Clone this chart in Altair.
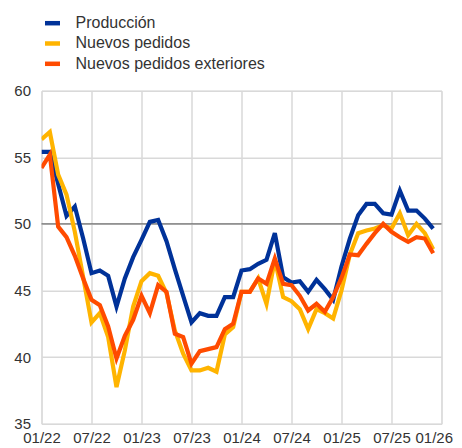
import altair as alt
import pandas as pd

series_names = ["Producción", "Nuevos pedidos", "Nuevos pedidos exteriores"]
series_colors = ["#003299", "#ffb400", "#ff4b00"]

months = list(range(48))  # months since 01/2022

produccion = [55.4, 55.4, 53.0, 50.6, 51.3, 48.9, 46.3, 46.5, 46.1, 43.8, 45.9, 47.5,
              48.8, 50.15, 50.3, 48.7, 46.6, 44.6, 42.6, 43.3, 43.1, 43.1, 44.5, 44.5,
              46.5, 46.6, 47.0, 47.3, 49.3, 46.0, 45.6, 45.7, 44.9, 45.8, 45.1, 44.3,
              46.8, 48.9, 50.65, 51.5, 51.5, 50.8, 50.7, 52.5, 51.0, 51.0, 50.4, 49.65]
nuevos_pedidos = [56.35, 56.9, 53.7, 52.2, 49.4, 46.0, 42.6, 43.3, 41.5, 37.75, 40.5, 43.8,
                  45.7, 46.3, 46.1, 44.8, 42.0, 40.25, 39.0, 39.0, 39.2, 38.9, 41.7, 42.25,
                  44.9, 44.9, 45.9, 44.0, 47.3, 44.5, 44.2, 43.6, 42.1, 43.6, 43.3, 42.9,
                  45.0, 47.7, 49.3, 49.5, 49.65, 49.9, 49.65, 50.8, 49.15, 50.0, 49.3, 48.1]
pedidos_exteriores = [54.2, 55.2, 49.8, 49.0, 47.6, 45.9, 44.3, 43.9, 42.3, 39.9, 41.6, 42.8,
                      44.6, 43.3, 45.4, 44.9, 41.75, 41.5, 39.5, 40.45, 40.6, 40.75, 42.1, 42.5,
                      44.9, 44.9, 45.9, 45.5, 47.4, 45.5, 45.4, 44.6, 43.5, 44.0, 43.4, 44.5,
                      45.95, 47.7, 47.65, 48.5, 49.3, 50.0, 49.4, 49.0, 48.65, 49.0, 48.9, 47.8]

x_tick_values = [0, 6, 12, 18, 24, 30, 36, 42, 48]
x_tick_labels = ["01/22", "07/22", "01/23", "07/23", "01/24", "07/24", "01/25", "07/25", "01/26"]
y_ticks = [35, 40, 45, 50, 55, 60]
reference_level = 50

rows = []
for name, vals in zip(series_names, [produccion, nuevos_pedidos, pedidos_exteriores]):
    for m, v in zip(months, vals):
        rows.append({"m": m, "v": v, "serie": name})
df = pd.DataFrame(rows)

label_expr = "[" + ",".join(f"'{t}'" for t in x_tick_labels) + "][round(datum.value/6)]"

FONT = "Liberation Sans"
TXT = "#333333"
GRID = "#d9d9d9"

lines = alt.Chart(df).mark_line(strokeWidth=4.2, strokeJoin="miter", clip=True).encode(
    x=alt.X("m:Q",
            scale=alt.Scale(domain=[0, 48], nice=False, zero=False),
            axis=alt.Axis(values=x_tick_values, labelExpr=label_expr, title=None,
                          grid=True, gridColor=GRID, gridWidth=1.5, ticks=False,
                          domain=False, labelPadding=7, labelFontSize=15,
                          labelColor=TXT, labelFont=FONT, labelFlush=False,
                          labelOverlap=False,
                          labelAlign={"condition": {"test": "datum.value == 48", "value": "right"},
                                      "value": "center"},
                          labelOffset={"condition": {"test": "datum.value == 48", "value": 11},
                                       "value": 0})),
    y=alt.Y("v:Q",
            scale=alt.Scale(domain=[35, 60], nice=False, zero=False),
            axis=alt.Axis(values=y_ticks, title=None, grid=True, gridColor=GRID,
                          gridWidth=1.5, ticks=False, domain=False, labelPadding=11,
                          labelFontSize=15, labelColor=TXT, labelFont=FONT)),
    color=alt.Color("serie:N",
                    scale=alt.Scale(domain=series_names, range=series_colors),
                    sort=series_names,
                    legend=alt.Legend(title=None, orient="none", legendX=1, legendY=-77.5,
                                      direction="vertical",
                                      symbolType="stroke",
                                      symbolSize=225, symbolStrokeWidth=4.5,
                                      symbolOpacity=1, labelFontSize=16, labelColor=TXT,
                                      labelFont=FONT, labelOffset=13, rowPadding=1.3,
                                      padding=0, labelLimit=400)),
    order=alt.Order("m:Q"),
    detail="serie:N",
)

rule = alt.Chart(pd.DataFrame({"y": [reference_level]})).mark_rule(
    color="#555555", strokeWidth=1
).encode(y="y:Q")

chart = alt.layer(rule, lines).properties(
    width=400, height=333,
    autosize=alt.AutoSizeParams(type="none"),
    padding={"left": 33.5, "top": 82.7, "right": 12, "bottom": 22},
).configure_view(stroke=None).configure(background="white")

chart.save("out.html", embed_options={"renderer": "svg", "actions": False})
